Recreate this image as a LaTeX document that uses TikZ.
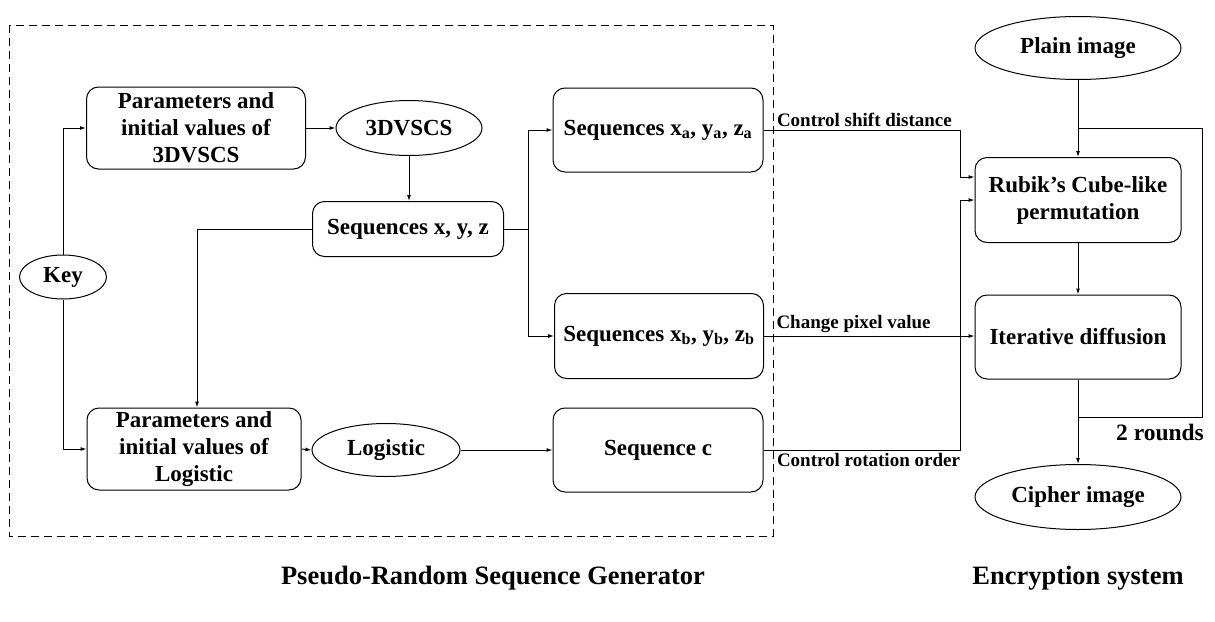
\documentclass[tikz,border=0pt]{standalone}
\usepackage{fontspec}
\setmainfont{Liberation Serif}[BoldFont={Liberation Serif Bold}]
\usetikzlibrary{arrows.meta,shapes.geometric}

\begin{document}
\begin{tikzpicture}[x=1pt,y=-1pt,line width=1pt,>={Latex[length=6pt,width=4pt]},
  font=\bfseries\fontsize{23}{27}\selectfont,
  laatikko/.style={draw, rounded corners=12pt, align=center, inner sep=2pt},
  soikio/.style={draw, ellipse, inner sep=0pt},
  teksti/.style={font=\bfseries\fontsize{19}{21}\selectfont, inner sep=3pt}]
\useasboundingbox (0,0) rectangle (1215,621);
% generator
\draw[dashed, dash pattern=on 8pt off 5pt] (9,25) rectangle (773,536);
\node[soikio, minimum width=87, minimum height=44] (key) at (63,277) {Key};
\node[laatikko, minimum width=219, minimum height=82] (p1) at (196,128) {Parameters and\\initial values of\\3DVSCS};
\node[soikio, minimum width=146, minimum height=55] (dv) at (409,128) {3DVSCS};
\node[laatikko, minimum width=191, minimum height=55] (xyz) at (408,229) {Sequences x, y, z};
\node[laatikko, minimum width=210, minimum height=84] (sa) at (658,130) {Sequences x\textsubscript{a}, y\textsubscript{a}, z\textsubscript{a}};
\node[laatikko, minimum width=209, minimum height=85] (sb) at (659,336) {Sequences x\textsubscript{b}, y\textsubscript{b}, z\textsubscript{b}};
\node[laatikko, minimum width=214, minimum height=82] (p2) at (194,449) {Parameters and\\initial values of\\Logistic};
\node[soikio, minimum width=148, minimum height=53] (lg) at (386,450) {Logistic};
\node[laatikko, minimum width=210, minimum height=84] (sc) at (658,450) {Sequence c};
% encryption
\node[soikio, minimum width=206, minimum height=63] (plain) at (1078,48) {Plain image};
\node[laatikko, minimum width=206, minimum height=85] (rub) at (1078,200) {Rubik’s Cube-like\\permutation};
\node[laatikko, minimum width=206, minimum height=84] (dif) at (1078,337) {Iterative diffusion};
\node[soikio, minimum width=206, minimum height=65] (ciph) at (1078,497) {Cipher image};
\coordinate (br) at (528,229);
\coordinate (j) at (960,300);
\coordinate (r1) at (1078,417);
\coordinate (r2) at (1202,128);
\path[draw,->] (key.north) |- (p1.west);
\path[draw,->] (key.south) |- (p2.west);
\path[draw,->] (p1.east) -- (dv.west);
\path[draw,->] (dv.south) -- (dv.south |- xyz.north);
\path[draw,->] (xyz.west) -| ([xshift=3pt]p2.north);
\path[draw] (xyz.east) -- (br);
\path[draw,->] (br) |- (sa.west);
\path[draw,->] (br) |- (sb.west);
\path[draw,->] (p2.east) -- (lg.west);
\path[draw,->] (lg.east) -- (sc.west);
\path[draw,->] (sa.east) -- node[teksti, pos=0, anchor=south west, xshift=10pt] {Control shift distance} (sa.east -| j) |- ([yshift=23pt]rub.west);
\path[draw,->] (sb.east) -- node[teksti, pos=0, anchor=south west, xshift=9pt] {Change pixel value} (sb.east -| rub.west);
\path[draw,->] (sc.east) -- node[teksti, pos=0, anchor=north west, xshift=10pt] {Control rotation order} (sc.east -| j) -- (j |- rub.west) -- (rub.west);
\path[draw,->] (plain) -- (rub);
\path[draw,->] (rub) -- (dif);
\path[draw,->] (dif) -- (ciph);
\path[draw] (r1) -| (r2) -- (r2 -| plain.south);
\node[font=\bfseries\fontsize{23.5}{25}\selectfont] (rd) at (1160,432) {2 rounds};
\node[font=\bfseries\fontsize{26.5}{28}\selectfont] (gen) at (493,578) {Pseudo-Random Sequence Generator};
\node[font=\bfseries\fontsize{26.5}{28}\selectfont] (enc) at (1078,578) {Encryption system};
\end{tikzpicture}
\end{document}
